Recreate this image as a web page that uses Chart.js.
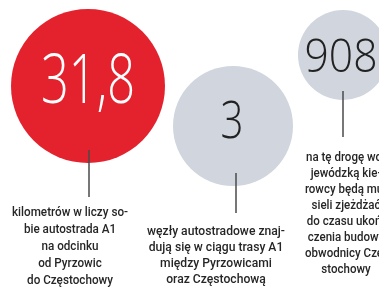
<!DOCTYPE html>
<html>
<head>
<meta charset="utf-8">
<script src="https://cdn.jsdelivr.net/npm/chart.js@4"></script>
<style>
html,body{margin:0;padding:0;background:#fff;}
#wrap{width:379px;height:288px;position:relative;}
</style>
</head>
<body>
<div id="wrap"><canvas id="c" width="379" height="288"></canvas></div>
<script>
// ---- data ----
const valueLabels = ["31,8", "3", "908"];
const values = [31.8, 3, 908];
const bubbleX = [88, 233, 343];
const bubbleY = [86, 126, 55];
const bubbleR = [77, 60, 45];
const descriptions = [
  ["kilometrów w liczy so-", "bie autostrada A1", "na odcinku", "od Pyrzowic", "do Częstochowy"],
  ["węzły autostradowe znaj-", "dują się w ciągu trasy A1", "między Pyrzowicami", "oraz Częstochową"],
  ["na tę drogę wo-", "jewódzką kie-", "rowcy będą mu-", "sieli zjeżdżać", "do czasu ukoń-", "czenia budowy", "obwodnicy Czę-", "stochowy"]
];

// ---- styles / layout ----
const bubbleColors = ["#e4222e", "#d0d5de", "#d0d5de"];
const numberColors = ["#ffffff", "#222222", "#222222"];
const layout = [
  {numSize: 68, numDy: 17, numDx: 0, numW: 94, lineDx: 1, lineTop: -13, lineBot: 34, textDx: -18, textTop: 50, lh: 17, textW: 116},
  {numSize: 51, numDy: 12, numDx: -1, numW: 23, lineDx: 3, lineTop: -13, lineBot: 27, textDx: -17, textTop: 46, lh: 15.8, textW: 138},
  {numSize: 46, numDy: 17, numDx: -2, numW: 73, lineDx: 0, lineTop: -9, lineBot: 37, textDx: 3, textTop: 58, lh: 16, textW: 80}
];

const labelsPlugin = {
  id: 'labels',
  afterDatasetsDraw(chart) {
    const ctx = chart.ctx;
    const meta = chart.getDatasetMeta(0);
    meta.data.forEach((el, i) => {
      const L = layout[i];
      const r = el.options.radius;
      const cx = el.x, cy = el.y;
      ctx.save();
      // number
      ctx.fillStyle = numberColors[i];
      ctx.font = '300 ' + L.numSize + 'px "Open Sans", Lato, "DejaVu Sans"';
      ctx.textAlign = 'center';
      ctx.textBaseline = 'alphabetic';
      ctx.fillText(valueLabels[i], cx + L.numDx, cy + L.numDy, L.numW);
      // connector line
      ctx.strokeStyle = '#4a4a4a';
      ctx.lineWidth = 1.5;
      ctx.beginPath();
      ctx.moveTo(cx + L.lineDx, cy + r + L.lineTop);
      ctx.lineTo(cx + L.lineDx, cy + r + L.lineBot);
      ctx.stroke();
      // description
      ctx.fillStyle = '#262626';
      ctx.font = '500 13.5px Roboto, "Noto Sans", sans-serif';
      ctx.textBaseline = 'middle';
      const ref = descriptions[i][0];
      const scale = Math.min(1, L.textW / ctx.measureText(ref).width);
      descriptions[i].forEach((line, k) => {
        const w = ctx.measureText(line).width * scale;
        ctx.fillText(line, cx + L.textDx, cy + r + L.textTop + k * L.lh, w);
      });
      ctx.restore();
    });
  }
};

new Chart(document.getElementById('c'), {
  type: 'bubble',
  data: {
    datasets: [{
      data: values.map((v, i) => ({x: bubbleX[i], y: bubbleY[i], r: bubbleR[i], v: v})),
      backgroundColor: bubbleColors,
      borderWidth: 0,
      hoverBorderWidth: 0,
      hoverRadius: 0
    }]
  },
  options: {
    responsive: false,
    animation: false,
    devicePixelRatio: 1,
    layout: {padding: 0, autoPadding: false},
    clip: false,
    plugins: {legend: {display: false}, tooltip: {enabled: false}},
    events: [],
    scales: {
      x: {type: 'linear', display: false, min: 0, max: 379},
      y: {type: 'linear', display: false, min: 0, max: 288, reverse: true}
    }
  },
  plugins: [labelsPlugin]
});
</script>
</body>
</html>
